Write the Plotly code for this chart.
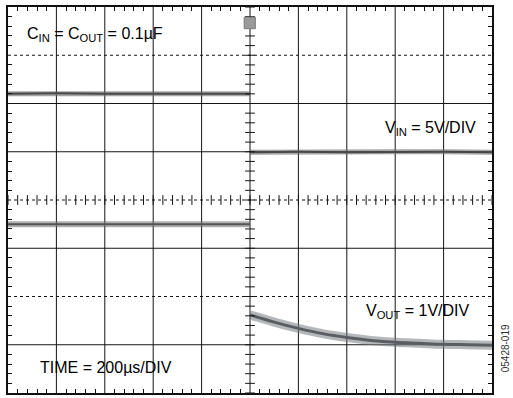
import numpy as np
import plotly.graph_objects as go

# time in divisions (0-10), signal levels in divisions (0-8, bottom = 0)
vin_t = [0, 1, 2, 3, 4, 5, None, 5, 6, 7, 8, 9, 10]
vin_v = [6.2, 6.21, 6.2, 6.2, 6.21, 6.2, None, 4.99, 5.0, 4.99, 5.0, 5.0, 4.99]

vout_t = [0, 1, 2, 3, 4, 5, None, 5, 5.5, 6, 6.5, 7, 7.5, 8, 8.5, 9, 9.5, 10]
vout_v = [3.5, 3.5, 3.51, 3.5, 3.5, 3.5, None, 1.62, 1.47, 1.34, 1.23, 1.15, 1.09, 1.05, 1.03, 1.01, 1.0, 0.99]

n_xdiv = 10
n_ydiv = 8

FONT = "Arial, Liberation Sans, sans-serif"
GRID = "#151515"

fig = go.Figure()

# noisy-band look: wide light stroke + narrow dark core
fig.add_trace(go.Scatter(x=vin_t, y=vin_v, mode="lines", connectgaps=False,
                         line=dict(color="rgba(105,105,105,0.6)", width=5), hoverinfo="skip"))
fig.add_trace(go.Scatter(x=vin_t, y=vin_v, mode="lines", connectgaps=False,
                         line=dict(color="#484848", width=2), hoverinfo="skip"))
fig.add_trace(go.Scatter(x=vout_t[:6], y=vout_v[:6], mode="lines",
                         line=dict(color="rgba(110,110,110,0.55)", width=6), hoverinfo="skip"))
fig.add_trace(go.Scatter(x=vout_t[:6], y=vout_v[:6], mode="lines",
                         line=dict(color="#555555", width=2), hoverinfo="skip"))
fig.add_trace(go.Scatter(x=vout_t[7:], y=vout_v[7:], mode="lines", line_shape="spline",
                         line=dict(color="rgba(120,125,130,0.55)", width=9), hoverinfo="skip"))
fig.add_trace(go.Scatter(x=vout_t[7:], y=vout_v[7:], mode="lines", line_shape="spline",
                         line=dict(color="#5a5e62", width=3), hoverinfo="skip"))

# tick marks on the centre cross-hairs
cx = np.arange(0, n_xdiv + 0.001, 0.2)
cy = np.arange(0, n_ydiv + 0.001, 0.2)
fig.add_trace(go.Scatter(x=cx, y=[n_ydiv / 2] * len(cx), mode="markers", hoverinfo="skip",
                         marker=dict(symbol="line-ns", size=7, line=dict(width=1, color=GRID))))
fig.add_trace(go.Scatter(x=[n_xdiv / 2] * len(cy), y=cy, mode="markers", hoverinfo="skip",
                         marker=dict(symbol="line-ew", size=7, line=dict(width=1, color=GRID))))

shapes = []
for i in range(1, n_xdiv):
    shapes.append(dict(type="line", xref="x", yref="y", x0=i, x1=i, y0=0, y1=n_ydiv,
                       line=dict(color=GRID, width=1), layer="below"))
for j in range(1, n_ydiv):
    shapes.append(dict(type="line", xref="x", yref="y", x0=0, x1=n_xdiv, y0=j, y1=j,
                       line=dict(color=GRID, width=1, dash="dot" if j in (2, 4, 7) else "solid"),
                       layer="below"))
# trigger marker
shapes.append(dict(type="rect", xref="x", yref="y", x0=4.88, x1=5.11, y0=7.55, y1=7.79,
                   fillcolor="#9a9a9a", line=dict(color="#7a7a7a", width=1)))
fig.update_layout(shapes=shapes)

ann = dict(showarrow=False, font=dict(family=FONT, size=16, color="#000"))
fig.add_annotation(x=0.35, y=7.44, xanchor="left", yanchor="middle",
                   text="C<sub>IN</sub> = C<sub>OUT</sub> = 0.1µF", **ann)
fig.add_annotation(x=9.71, y=5.48, xanchor="right", yanchor="middle",
                   text="V<sub>IN</sub> = 5V/DIV", **ann)
fig.add_annotation(x=9.59, y=1.69, xanchor="right", yanchor="middle",
                   text="V<sub>OUT</sub> = 1V/DIV", **ann)
fig.add_annotation(x=0.62, y=0.52, xanchor="left", yanchor="middle",
                   text="TIME = 200µs/DIV", **ann)
fig.add_annotation(x=1.027, y=0.116, xref="paper", yref="paper", xanchor="center", yanchor="middle",
                   textangle=-90, text="05428-019", showarrow=False,
                   font=dict(family=FONT, size=10, color="#333"))

axis_common = dict(showgrid=False, zeroline=False, showticklabels=False, ticks="",
                   showline=True, linecolor="#111", linewidth=1.5, mirror="allticks",
                   minor=dict(ticks="inside", ticklen=4, tickcolor=GRID, tickwidth=1, showgrid=False))
fig.update_xaxes(range=[0, n_xdiv], dtick=1, **axis_common)
fig.update_xaxes(minor_dtick=0.2)
fig.update_yaxes(range=[0, n_ydiv], dtick=1, **axis_common)
fig.update_yaxes(minor_dtick=0.2)

fig.update_layout(width=513, height=398, margin=dict(l=8, r=21, t=5, b=5),
                  paper_bgcolor="white", plot_bgcolor="white", showlegend=False)

fig.write_html("out.html")
